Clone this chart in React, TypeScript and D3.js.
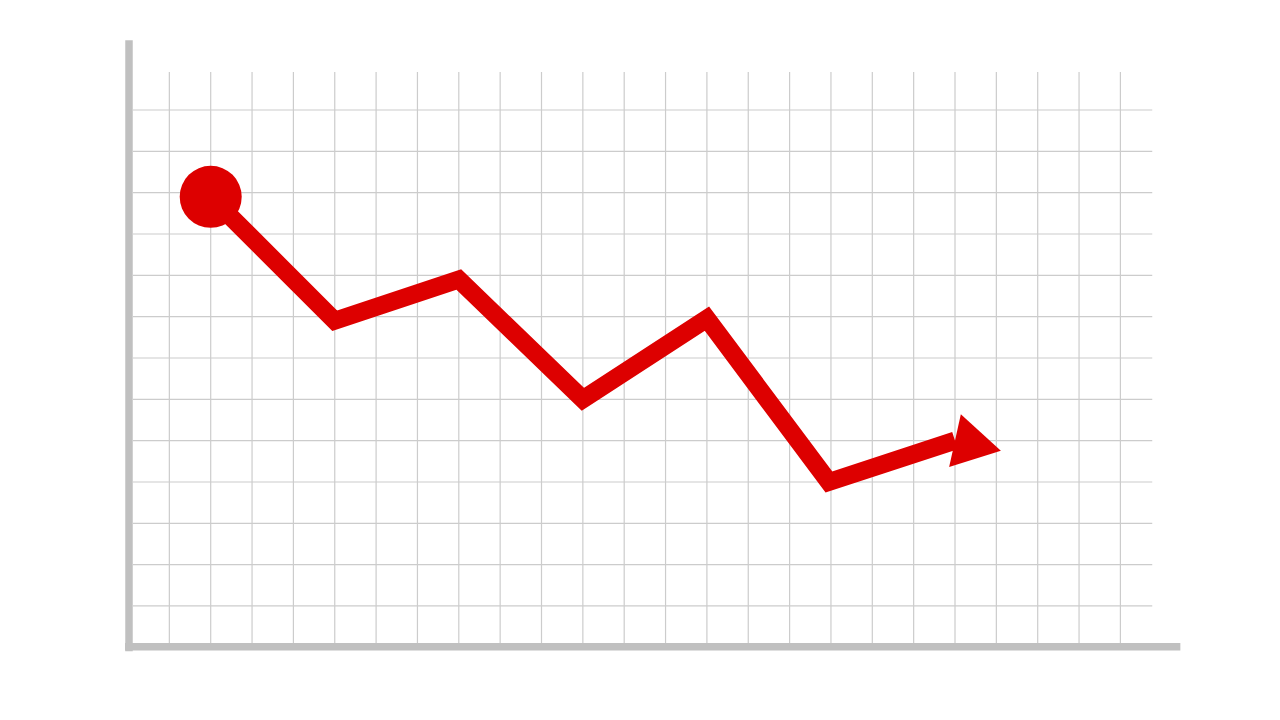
import { useEffect, useRef } from "react";
import * as d3 from "d3";

// grid positions (in grid units) and the series
const gridCols = d3.range(1, 25);
const gridRows = d3.range(1, 14);
const stepX = [2, 5, 8, 11, 14, 16.95, 20];
const stepY = [10.9, 7.9, 8.9, 6, 7.95, 4, 5];

export default function App() {
  const svgRef = useRef<SVGSVGElement>(null);

  useEffect(() => {
    if (!svgRef.current) return;
    const svg = d3.select(svgRef.current);
    svg.selectAll("*").remove();

    const x = d3.scaleLinear().domain([0, 24]).range([128, 1120.4]);
    const y = d3.scaleLinear().domain([0, 13]).range([647.3, 110]);

    const gridColor = "#cccccc";
    const axisColor = "#c0c0c0";
    const red = "#dd0000";

    // Grid
    const grid = svg.append("g").attr("class", "grid");
    grid
      .selectAll("line.v")
      .data(gridCols)
      .join("line")
      .attr("class", "v")
      .attr("x1", (d) => x(d))
      .attr("x2", (d) => x(d))
      .attr("y1", y(13.92))
      .attr("y2", y(0))
      .attr("stroke", gridColor)
      .attr("stroke-width", 1.2);
    grid
      .selectAll("line.h")
      .data(gridRows)
      .join("line")
      .attr("class", "h")
      .attr("x1", x(0.12))
      .attr("x2", x(24.77))
      .attr("y1", (d) => y(d))
      .attr("y2", (d) => y(d))
      .attr("stroke", gridColor)
      .attr("stroke-width", 1.2);

    // Axes (plain thick bars, no ticks)
    svg
      .append("line")
      .attr("x1", x(0) + 1)
      .attr("x2", x(0) + 1)
      .attr("y1", y(14.69))
      .attr("y2", y(0) + 4)
      .attr("stroke", axisColor)
      .attr("stroke-width", 7.5);
    svg
      .append("line")
      .attr("x1", x(0) - 3)
      .attr("x2", x(25.45))
      .attr("y1", y(0) - 0.5)
      .attr("y2", y(0) - 0.5)
      .attr("stroke", axisColor)
      .attr("stroke-width", 7.5);

    // Line
    const pts = stepX.map((v, i) => [v, stepY[i]] as [number, number]);
    const line = d3
      .line<[number, number]>()
      .x((d) => x(d[0]))
      .y((d) => y(d[1]));

    svg
      .append("path")
      .datum(pts)
      .attr("fill", "none")
      .attr("stroke", red)
      .attr("stroke-width", 18)
      .attr("stroke-linejoin", "miter")
      .attr("stroke-miterlimit", 10)
      .attr("d", line);

    // Start dot
    svg
      .append("circle")
      .attr("cx", x(stepX[0]))
      .attr("cy", y(stepY[0]))
      .attr("r", 31)
      .attr("fill", red);

    // Arrowhead at the end point
    const last = pts[pts.length - 1];
    svg
      .append("path")
      .attr(
        "transform",
        `translate(${x(last[0])},${y(last[1])}) rotate(12.5)`
      )
      .attr("d", "M0,-27L47,0L0,27Z")
      .attr("fill", red);
  }, []);

  return (
    <svg
      ref={svgRef}
      width={1280}
      height={720}
      style={{ position: "absolute", left: 0, top: 0, background: "#fff" }}
    />
  );
}
